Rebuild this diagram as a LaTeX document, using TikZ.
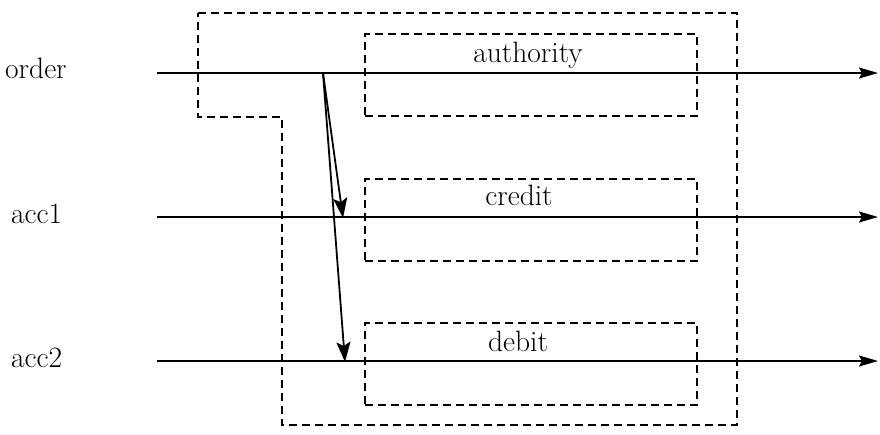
\documentclass[tikz,border=0pt]{standalone}
\usetikzlibrary{arrows.meta}
\begin{document}
\begin{tikzpicture}[x=1pt,y=-1pt,
  every node/.style={font=\fontsize{29.5}{34}\selectfont, inner sep=0pt},
  frame/.style={draw, line width=1.9pt, dash pattern=on 8pt off 5pt},
  boxnode/.style={frame, minimum width=332pt, minimum height=82pt, anchor=north west},
  flow/.style={line width=2pt, -{Stealth[length=19pt,width=11pt,inset=3pt]}},
  msg/.style={line width=1.8pt, -{Stealth[length=20pt,width=14pt,inset=4pt]}},
  lbl/.style={anchor=base west},
  title/.style={anchor=base}]
\useasboundingbox (0,0) rectangle (880,434);

% composite boundary
\draw[frame] (198,13) -- (737,13) -- (737,425) -- (282,425) -- (282,117)
  -- (198,117) -- cycle;

% inner operations
\node[boxnode] (auth) at (364,33) {};
\node[boxnode] (cred) at (364,178) {};
\node[boxnode] (deb)  at (364,322) {};
\node[title] (authT) at (528,62) {authority};
\node[title] (credT) at (519,205) {credit};
\node[title] (debT)  at (518,351) {debit};

% inputs
\node[lbl] (order) at (5,78) {order};
\node[lbl] (acc1)  at (11,223) {acc1};
\node[lbl] (acc2)  at (11,367) {acc2};

\coordinate (o0) at (157,73);  \coordinate (o1) at (878,73);
\coordinate (a0) at (157,217); \coordinate (a1) at (878,217);
\coordinate (b0) at (157,361); \coordinate (b1) at (878,361);
\draw[flow] (o0) -- (o1);
\draw[flow] (a0) -- (a1);
\draw[flow] (b0) -- (b1);

% order messages to the accounts
\coordinate (src) at (323,73);
\coordinate (t1) at (343,218);
\coordinate (t2) at (345,362);
\draw[msg] (src) -- (t1);
\draw[msg] (src) -- (t2);
\end{tikzpicture}
\end{document}
